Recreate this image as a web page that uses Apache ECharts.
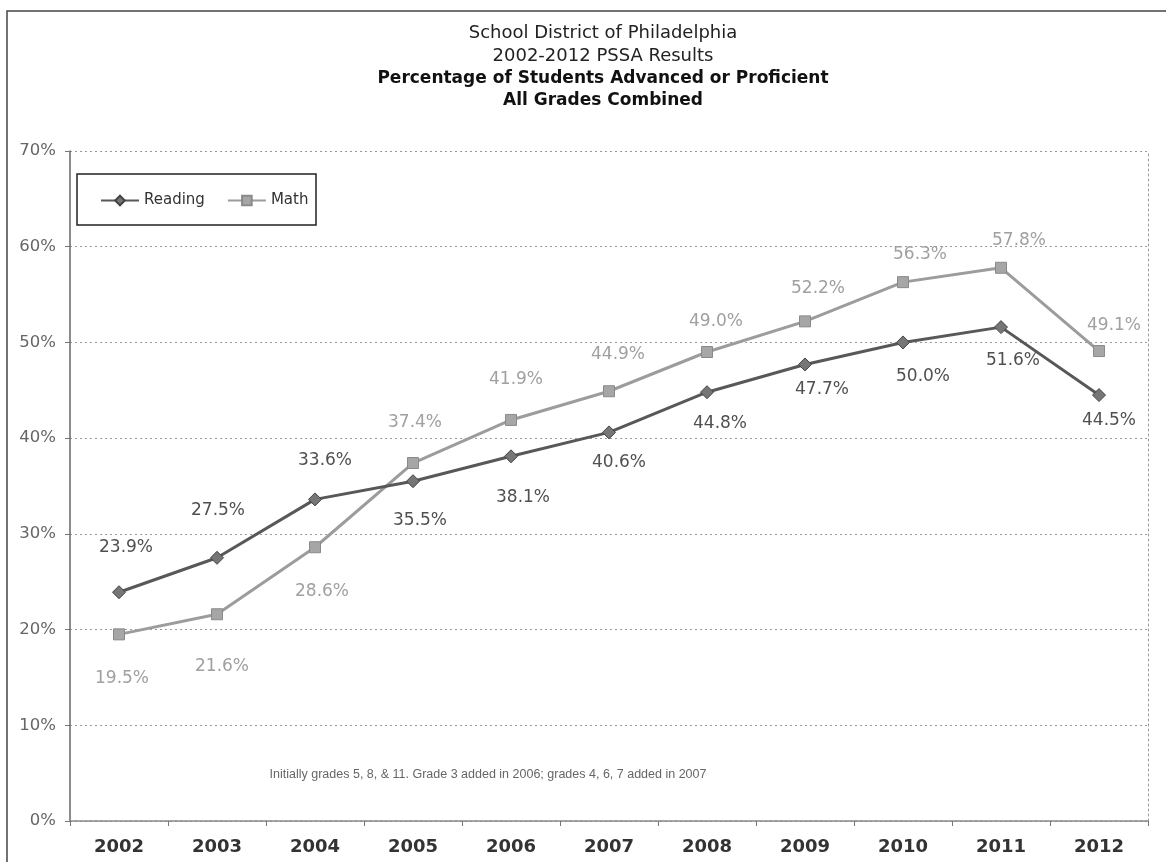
<!DOCTYPE html>
<html>
<head>
<meta charset="utf-8">
<script src="https://cdn.jsdelivr.net/npm/echarts@6/dist/echarts.min.js"></script>
<style>
  html, body { margin: 0; padding: 0; background: #ffffff; }
  #chart { width: 1166px; height: 862px; }
</style>
</head>
<body>
<div id="chart"></div>
<script>
// PSSA results, School District of Philadelphia, share of students advanced or proficient (%)
const years = ['2002', '2003', '2004', '2005', '2006', '2007', '2008', '2009', '2010', '2011', '2012'];
const reading = [23.9, 27.5, 33.6, 35.5, 38.1, 40.6, 44.8, 47.7, 50.0, 51.6, 44.5];
const math = [19.5, 21.6, 28.6, 37.4, 41.9, 44.9, 49.0, 52.2, 56.3, 57.8, 49.1];
const yTicks = [0, 10, 20, 30, 40, 50, 60, 70];

// label placement around each point: [dx, dy] in pixels
const readingLabelShift = [[7, -45], [1, -47], [10, -39], [7, 39], [12, 41], [10, 30], [13, 31], [17, 25], [20, 34], [12, 33], [10, 26]];
const mathLabelShift = [[3, 44], [5, 52], [7, 44], [2, -40], [5, -40], [9, -37], [9, -30], [13, -33], [17, -28], [18, -27], [15, -25]];

const FONT = 'DejaVu Sans';

function withLabels(values, shifts) {
  return values.map((v, i) => ({
    value: v,
    label: { offset: shifts[i] }
  }));
}

const chart = echarts.init(document.getElementById('chart'), null, { renderer: 'canvas' });

const option = {
  backgroundColor: '#ffffff',
  animation: false,
  grid: { left: 70, right: 18, top: 151, bottom: 41, containLabel: false },
  xAxis: {
    type: 'category',
    data: years,
    boundaryGap: true,
    axisLine: { show: true, lineStyle: { color: '#888888', width: 1.5 } },
    axisTick: { show: true, length: 5, lineStyle: { color: '#777777', width: 1 } },
    axisLabel: { margin: 17, fontFamily: FONT, fontSize: 18, fontWeight: 'bold', color: '#333333' },
    splitLine: { show: false }
  },
  yAxis: [
    {
      type: 'value',
      min: yTicks[0],
      max: yTicks[yTicks.length - 1],
      interval: 10,
      axisLine: { show: true, lineStyle: { color: '#666666', width: 1.5 } },
      axisTick: { show: true, length: 5, lineStyle: { color: '#777777' } },
      axisLabel: { margin: 14, fontFamily: FONT, fontSize: 16.5, color: '#666666', formatter: '{value}%' },
      splitLine: { show: true, lineStyle: { color: '#9a9a9a', width: 1, type: [2, 3] } }
    },
    {
      type: 'value',
      position: 'right',
      min: yTicks[0],
      max: yTicks[yTicks.length - 1],
      interval: 10,
      axisLine: { show: true, lineStyle: { color: '#9a9a9a', width: 1, type: [2, 3] } },
      axisTick: { show: false },
      axisLabel: { show: false },
      splitLine: { show: false }
    }
  ],
  legend: {
    left: 100,
    top: 193,
    padding: 0,
    itemWidth: 38,
    itemHeight: 12,
    itemGap: 22,
    textStyle: { fontFamily: FONT, fontSize: 15, color: '#333333' },
    data: ['Reading', 'Math']
  },
  series: [
    {
      name: 'Math',
      type: 'line',
      data: withLabels(math, mathLabelShift),
      symbol: 'rect',
      symbolSize: 11,
      lineStyle: { color: '#9c9c9c', width: 3 },
      itemStyle: { color: '#a6a6a6', borderColor: '#8a8a8a', borderWidth: 1 },
      label: {
        show: true,
        position: 'inside',
        fontFamily: FONT,
        fontSize: 17,
        color: '#a0a0a0',
        formatter: p => p.value.toFixed(1) + '%'
      },
      z: 2
    },
    {
      name: 'Reading',
      type: 'line',
      data: withLabels(reading, readingLabelShift),
      symbol: 'diamond',
      symbolSize: 13,
      lineStyle: { color: '#585858', width: 3 },
      itemStyle: { color: '#767676', borderColor: '#444444', borderWidth: 1 },
      label: {
        show: true,
        position: 'inside',
        fontFamily: FONT,
        fontSize: 17,
        color: '#505050',
        formatter: p => p.value.toFixed(1) + '%'
      },
      z: 3
    }
  ],
  graphic: [
    // outer chart frame
    {
      type: 'rect',
      shape: { x: 7, y: 11, width: 1200, height: 900 },
      style: { fill: 'none', stroke: '#444444', lineWidth: 1.5 },
      silent: true, z: -1
    },
    // legend box
    {
      type: 'rect',
      shape: { x: 77, y: 174, width: 239, height: 51 },
      style: { fill: 'none', stroke: '#222222', lineWidth: 1.5 },
      silent: true
    },
    {
      type: 'text', x: 603, y: 33,
      style: { text: 'School District of Philadelphia', font: '18px "DejaVu Sans"', fill: '#222222', textAlign: 'center', textVerticalAlign: 'middle' }
    },
    {
      type: 'text', x: 603, y: 56,
      style: { text: '2002-2012 PSSA Results', font: '18px "DejaVu Sans"', fill: '#222222', textAlign: 'center', textVerticalAlign: 'middle' }
    },
    {
      type: 'text', x: 603, y: 79,
      style: { text: 'Percentage of Students Advanced or Proficient', font: 'bold 17px "DejaVu Sans"', fill: '#111111', textAlign: 'center', textVerticalAlign: 'middle' }
    },
    {
      type: 'text', x: 603, y: 101,
      style: { text: 'All Grades Combined', font: 'bold 17px "DejaVu Sans"', fill: '#111111', textAlign: 'center', textVerticalAlign: 'middle' }
    },
    {
      type: 'text', x: 488, y: 775,
      style: { text: 'Initially grades 5, 8, & 11. Grade 3 added in 2006; grades 4, 6, 7 added in 2007', font: '12.5px "Liberation Sans"', fill: '#666666', textAlign: 'center', textVerticalAlign: 'middle' }
    }
  ]
};

chart.setOption(option);
</script>
</body>
</html>
